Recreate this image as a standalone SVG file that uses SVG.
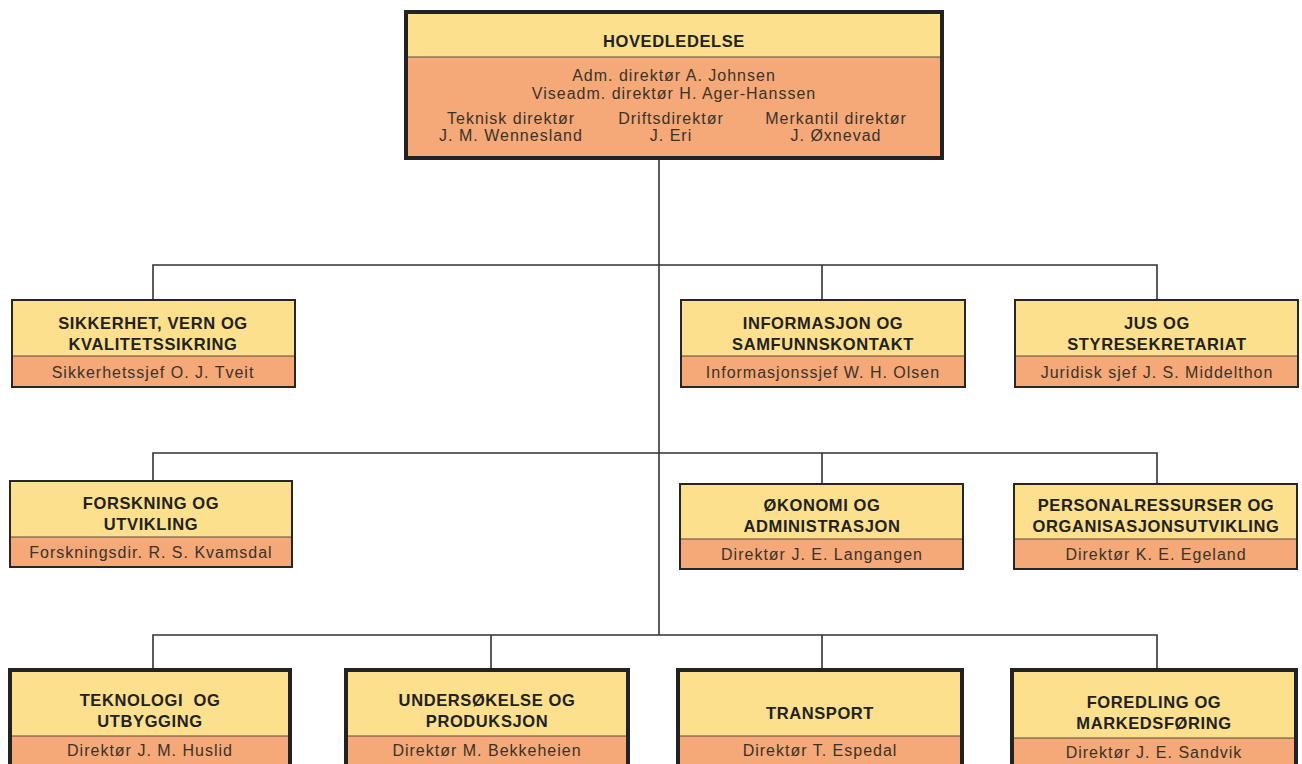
<svg xmlns="http://www.w3.org/2000/svg" width="1302" height="764" viewBox="0 0 1302 764">
<style>
.y{fill:#fce08e}
.o{fill:#f5a878}
.f{fill:none;stroke:#262626;stroke-width:2}
.F{fill:none;stroke:#222;stroke-width:4}
.d{stroke:#5a4a3a;stroke-width:1}
.h{font-family:"Liberation Sans",Arial,sans-serif;font-weight:bold;font-size:16.5px;fill:#222;text-anchor:middle;letter-spacing:0.6px}
.t{font-family:"Liberation Sans",Arial,sans-serif;font-size:16px;fill:#3a3328;text-anchor:middle;letter-spacing:1px}
.c{fill:none;stroke:#333;stroke-width:1.6}
</style>
<rect width="1302" height="764" fill="#fff"/>
<g id="connectors">
<path class="c" d="M659 158V635"/>
<path class="c" d="M153 300V265H1157V300M822 265V300"/>
<path class="c" d="M153 481V453H1157V484M822 453V484"/>
<path class="c" d="M153 668V635H1157V668M491 635V668M822 635V668"/>
</g>
<g id="hovedledelse">
<rect class="y" x="406" y="12" width="536" height="45"/>
<rect class="o" x="406" y="57" width="536" height="101"/>
<line class="d" x1="406" y1="57" x2="942" y2="57"/>
<rect class="F" x="406" y="12" width="536" height="146"/>
<text class="h" x="674" y="47">HOVEDLEDELSE</text>
<text class="t" x="674" y="81">Adm. direktør A. Johnsen</text>
<text class="t" x="674" y="99">Viseadm. direktør H. Ager-Hanssen</text>
<text class="t" x="511" y="124">Teknisk direktør</text>
<text class="t" x="511" y="141">J. M. Wennesland</text>
<text class="t" x="671" y="124">Driftsdirektør</text>
<text class="t" x="671" y="141">J. Eri</text>
<text class="t" x="836" y="124">Merkantil direktør</text>
<text class="t" x="836" y="141">J. Øxnevad</text>
</g>
<g id="sikkerhet">
<rect class="y" x="12" y="300" width="283" height="56"/>
<rect class="o" x="12" y="356" width="283" height="31"/>
<line class="d" x1="12" y1="356" x2="295" y2="356"/>
<rect class="f" x="12" y="300" width="283" height="87"/>
<text class="h" x="153" y="329">SIKKERHET, VERN OG</text>
<text class="h" x="153" y="350">KVALITETSSIKRING</text>
<text class="t" x="153" y="378">Sikkerhetssjef O. J. Tveit</text>
</g>
<g id="informasjon">
<rect class="y" x="681" y="300" width="284" height="56"/>
<rect class="o" x="681" y="356" width="284" height="31"/>
<line class="d" x1="681" y1="356" x2="965" y2="356"/>
<rect class="f" x="681" y="300" width="284" height="87"/>
<text class="h" x="823" y="329">INFORMASJON OG</text>
<text class="h" x="823" y="350">SAMFUNNSKONTAKT</text>
<text class="t" x="823" y="378">Informasjonssjef W. H. Olsen</text>
</g>
<g id="jus">
<rect class="y" x="1015" y="300" width="283" height="56"/>
<rect class="o" x="1015" y="356" width="283" height="31"/>
<line class="d" x1="1015" y1="356" x2="1298" y2="356"/>
<rect class="f" x="1015" y="300" width="283" height="87"/>
<text class="h" x="1157" y="329">JUS OG</text>
<text class="h" x="1157" y="350">STYRESEKRETARIAT</text>
<text class="t" x="1157" y="378">Juridisk sjef J. S. Middelthon</text>
</g>
<g id="forskning">
<rect class="y" x="10" y="481" width="282" height="56"/>
<rect class="o" x="10" y="537" width="282" height="30"/>
<line class="d" x1="10" y1="537" x2="292" y2="537"/>
<rect class="f" x="10" y="481" width="282" height="86"/>
<text class="h" x="151" y="509">FORSKNING OG</text>
<text class="h" x="151" y="530">UTVIKLING</text>
<text class="t" x="151" y="558">Forskningsdir. R. S. Kvamsdal</text>
</g>
<g id="okonomi">
<rect class="y" x="680" y="484" width="283" height="55"/>
<rect class="o" x="680" y="539" width="283" height="30"/>
<line class="d" x1="680" y1="539" x2="963" y2="539"/>
<rect class="f" x="680" y="484" width="283" height="85"/>
<text class="h" x="822" y="511">ØKONOMI OG</text>
<text class="h" x="822" y="532">ADMINISTRASJON</text>
<text class="t" x="822" y="560">Direktør J. E. Langangen</text>
</g>
<g id="personal">
<rect class="y" x="1014" y="484" width="283" height="55"/>
<rect class="o" x="1014" y="539" width="283" height="30"/>
<line class="d" x1="1014" y1="539" x2="1297" y2="539"/>
<rect class="f" x="1014" y="484" width="283" height="85"/>
<text class="h" x="1156" y="511">PERSONALRESSURSER OG</text>
<text class="h" x="1156" y="532">ORGANISASJONSUTVIKLING</text>
<text class="t" x="1156" y="560">Direktør K. E. Egeland</text>
</g>
<g id="teknologi">
<rect class="y" x="10" y="670" width="280" height="66"/>
<rect class="o" x="10" y="736" width="280" height="40"/>
<line class="d" x1="10" y1="736" x2="290" y2="736"/>
<rect class="F" x="10" y="670" width="280" height="106"/>
<text class="h" x="150" y="706" xml:space="preserve">TEKNOLOGI  OG</text>
<text class="h" x="150" y="727">UTBYGGING</text>
<text class="t" x="150" y="756">Direktør J. M. Huslid</text>
</g>
<g id="undersokelse">
<rect class="y" x="346" y="670" width="282" height="66"/>
<rect class="o" x="346" y="736" width="282" height="40"/>
<line class="d" x1="346" y1="736" x2="628" y2="736"/>
<rect class="F" x="346" y="670" width="282" height="106"/>
<text class="h" x="487" y="706">UNDERSØKELSE OG</text>
<text class="h" x="487" y="727">PRODUKSJON</text>
<text class="t" x="487" y="756">Direktør M. Bekkeheien</text>
</g>
<g id="transport">
<rect class="y" x="678" y="670" width="284" height="66"/>
<rect class="o" x="678" y="736" width="284" height="40"/>
<line class="d" x1="678" y1="736" x2="962" y2="736"/>
<rect class="F" x="678" y="670" width="284" height="106"/>
<text class="h" x="820" y="719">TRANSPORT</text>
<text class="t" x="820" y="756">Direktør T. Espedal</text>
</g>
<g id="foredling">
<rect class="y" x="1012" y="670" width="284" height="68"/>
<rect class="o" x="1012" y="738" width="284" height="40"/>
<line class="d" x1="1012" y1="738" x2="1296" y2="738"/>
<rect class="F" x="1012" y="670" width="284" height="108"/>
<text class="h" x="1154" y="708">FOREDLING OG</text>
<text class="h" x="1154" y="729">MARKEDSFØRING</text>
<text class="t" x="1154" y="758">Direktør J. E. Sandvik</text>
</g>
</svg>
